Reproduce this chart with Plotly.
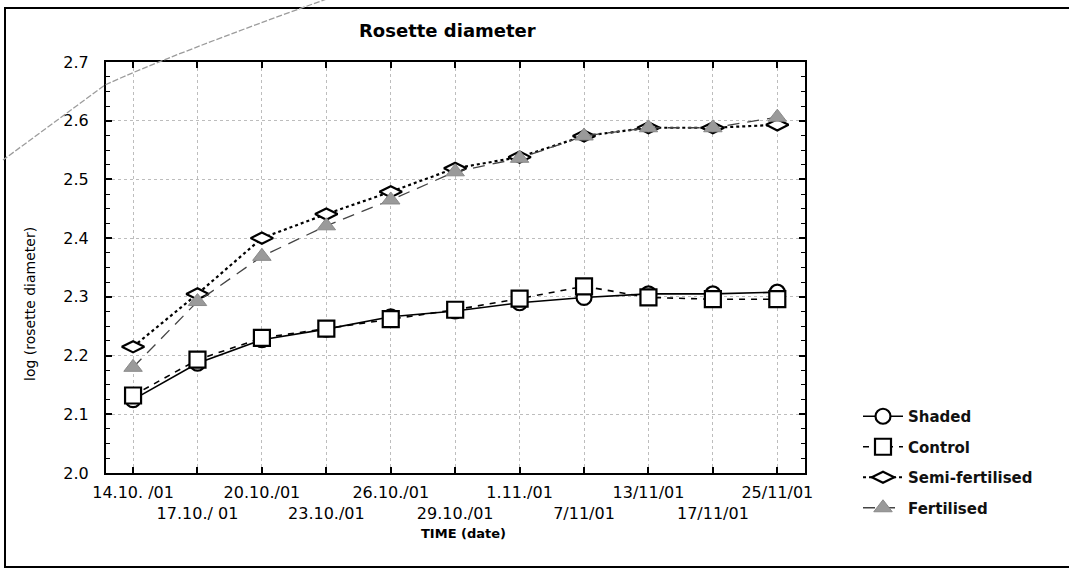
import plotly.graph_objects as go

dates = ["14.10. /01", "17.10./ 01", "20.10./01", "23.10./01", "26.10./01",
         "29.10./01", "1.11./01", "7/11/01", "13/11/01", "17/11/01", "25/11/01"]

shaded = [2.125, 2.187, 2.227, 2.245, 2.266, 2.276, 2.290, 2.299, 2.305, 2.305, 2.308]
control = [2.132, 2.193, 2.230, 2.246, 2.262, 2.278, 2.297, 2.318, 2.299, 2.296, 2.296]
semi_fertilised = [2.215, 2.305, 2.400, 2.441, 2.479, 2.519, 2.538, 2.574, 2.588, 2.588, 2.593]
fertilised = [2.180, 2.292, 2.369, 2.421, 2.465, 2.513, 2.536, 2.574, 2.588, 2.588, 2.606]

y_ticks = [2.0, 2.1, 2.2, 2.3, 2.4, 2.5, 2.6, 2.7]

# alternate tick labels on two rows
tick_text = [d if i % 2 == 0 else "<br>" + d for i, d in enumerate(dates)]

W, H = 1069, 568
L, R, T, B = 106, 805, 62, 473


def px(x):
    return (x - L) / (R - L)


def py(y):
    return (B - y) / (B - T)


fig = go.Figure()

fig.add_trace(go.Scatter(
    x=dates, y=shaded, name="Shaded", mode="lines+markers",
    line=dict(color="black", width=1.6, dash="solid"),
    marker=dict(symbol="circle", size=15, color="white",
                line=dict(color="black", width=2.2)),
    legendgroup="a"))
fig.add_trace(go.Scatter(
    x=dates, y=control, name="Control", mode="lines+markers",
    line=dict(color="black", width=1.6, dash="6px,6px"),
    marker=dict(symbol="square", size=16, color="white",
                line=dict(color="black", width=2.2)),
    legendgroup="b"))
fig.add_trace(go.Scatter(
    x=dates, y=semi_fertilised, name="Semi-fertilised", mode="lines+markers",
    line=dict(color="black", width=2.2, dash="3px,3px"),
    marker=dict(symbol="diamond-wide", size=16, color="white",
                line=dict(color="black", width=2.2)),
    legendgroup="c"))
fig.add_trace(go.Scatter(
    x=dates, y=fertilised, name="Fertilised", mode="lines+markers",
    line=dict(color="#444444", width=1.3, dash="12px,8px"),
    marker=dict(symbol="triangle-up", size=16, color="#9a9a9a",
                line=dict(color="#8a8a8a", width=1)),
    legendgroup="d"))

shapes = [
    # outer frame
    dict(type="rect", xref="paper", yref="paper",
         x0=px(5), x1=px(1100), y0=py(567), y1=py(8),
         line=dict(color="black", width=2), fillcolor="rgba(0,0,0,0)", layer="below"),
    # pencil mark of the scan
    dict(type="path", xref="paper", yref="paper",
         path=f"M {px(335)},{py(-4)} Q {px(170)},{py(55)} {px(105)},{py(85)} L {px(3)},{py(160)}",
         line=dict(color="#9c9c9c", width=1.3, dash="6px,2px")),
]

fig.update_layout(
    width=W, height=H,
    margin=dict(l=L, r=W - R, t=T, b=H - B, autoexpand=False),
    paper_bgcolor="white", plot_bgcolor="white",
    font=dict(family="DejaVu Sans", color="black", size=16),
    showlegend=True,
    legend=dict(x=px(858), y=py(400), xanchor="left", yanchor="top",
                font=dict(family="DejaVu Sans", size=15, color="#111111", weight="bold"),
                traceorder="grouped", tracegroupgap=8, itemwidth=40,
                bgcolor="rgba(0,0,0,0)"),
    shapes=shapes,
    annotations=[
        dict(text="<b>Rosette diameter</b>", xref="paper", yref="paper",
             x=px(447), y=py(30), xanchor="center", yanchor="middle", showarrow=False,
             font=dict(family="DejaVu Sans", size=18, color="black")),
        dict(text="log (rosette diameter)", xref="paper", yref="paper",
             x=px(30), y=py(304), xanchor="center", yanchor="middle",
             textangle=-90, showarrow=False,
             font=dict(family="DejaVu Sans", size=14, color="black")),
        dict(text="<b>TIME (date)</b>", xref="paper", yref="paper",
             x=px(464), y=py(533), xanchor="center", yanchor="middle", showarrow=False,
             font=dict(family="DejaVu Sans", size=13, color="black")),
    ],
)

fig.update_xaxes(
    type="category", range=[-0.42, 10.43],
    tickvals=dates, ticktext=tick_text, tickangle=0, automargin=False,
    ticks="inside", ticklen=6, tickwidth=1.5, tickcolor="black",
    showline=True, linecolor="black", linewidth=2, mirror="ticks",
    showgrid=True, gridcolor="#bdbdbd", gridwidth=1, griddash="dot",
    tickfont=dict(family="DejaVu Sans", size=16, color="black"),
    ticklabelstandoff=4, zeroline=False,
)
fig.update_yaxes(
    range=[2.0, 2.7], tickvals=y_ticks, tickformat=".1f", automargin=False,
    ticks="inside", ticklen=6, tickwidth=1.5, tickcolor="black",
    minor=dict(dtick=0.025, ticks="inside", ticklen=4, tickcolor="black", tickwidth=1.2, showgrid=False),
    showline=True, linecolor="black", linewidth=2, mirror="ticks",
    showgrid=True, gridcolor="#bdbdbd", gridwidth=1, griddash="dot",
    tickfont=dict(family="DejaVu Sans", size=16, color="black"),
    ticklabelstandoff=12, zeroline=False,
)

fig.write_html("out.html")
